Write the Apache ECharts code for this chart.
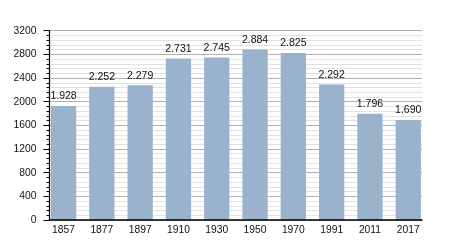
<!DOCTYPE html>
<html>
<head>
<meta charset="utf-8">
<script src="https://cdn.jsdelivr.net/npm/echarts@6/dist/echarts.min.js"></script>
<style>html,body{margin:0;padding:0;background:#fff}#c{width:450px;height:250px}</style>
</head>
<body>
<div id="c"></div>
<script>
const categories = ['1857','1877','1897','1910','1930','1950','1970','1991','2011','2017'];
const population = [1928, 2252, 2279, 2731, 2745, 2884, 2825, 2292, 1796, 1690];
const yTicks = [0, 400, 800, 1200, 1600, 2000, 2400, 2800, 3200];

const fmt = v => String(v).replace(/\B(?=(\d{3})+(?!\d))/g, '.');
const font = 'Liberation Sans, Arial, sans-serif';
const chart = echarts.init(document.getElementById('c'), null, {renderer: 'canvas'});
chart.setOption({
  animation: false,
  backgroundColor: '#fff',
  grid: [
    {left: 49.5, right: 28, top: 30.7, bottom: 30, containLabel: false},
    {left: 44.4, right: 22.6, top: 30.7, bottom: 30, containLabel: false}
  ],
  xAxis: [
    {type: 'category', gridIndex: 0, data: categories, z: 10,
     axisLine: {show: true, lineStyle: {color: '#000', width: 1.5}},
     axisTick: {show: false}, axisLabel: {show: false}, splitLine: {show: false}},
    {type: 'category', gridIndex: 1, data: categories,
     axisLine: {show: false}, axisTick: {show: false},
     axisLabel: {color: '#111', fontSize: 10.3, fontFamily: font, margin: 5}}
  ],
  yAxis: [
    {type: 'value', gridIndex: 0, min: yTicks[0], max: yTicks[yTicks.length - 1], interval: 400,
     axisLine: {show: true, lineStyle: {color: '#000', width: 1.2}},
     axisTick: {show: true, length: 6, lineStyle: {color: '#000'}},
     minorTick: {show: true, splitNumber: 5, length: 3, lineStyle: {color: '#000'}},
     axisLabel: {color: '#111', fontSize: 10.3, fontFamily: font, margin: 13, formatter: v => String(v)},
     splitLine: {show: true, lineStyle: {color: '#b0b0b0', width: 1}},
     minorSplitLine: {show: true, lineStyle: {color: '#e2e2e2', width: 1}}},
    {type: 'value', gridIndex: 1, min: yTicks[0], max: yTicks[yTicks.length - 1], show: false,
     splitLine: {show: false}}
  ],
  series: [{
    type: 'bar', xAxisIndex: 1, yAxisIndex: 1, data: population,
    barWidth: 25.3,
    itemStyle: {color: '#9ab2cb'},
    label: {show: true, position: 'top', distance: 4, color: '#111', fontSize: 10.5, fontFamily: font,
            formatter: p => fmt(p.value)}
  }]
});
</script>
</body>
</html>
